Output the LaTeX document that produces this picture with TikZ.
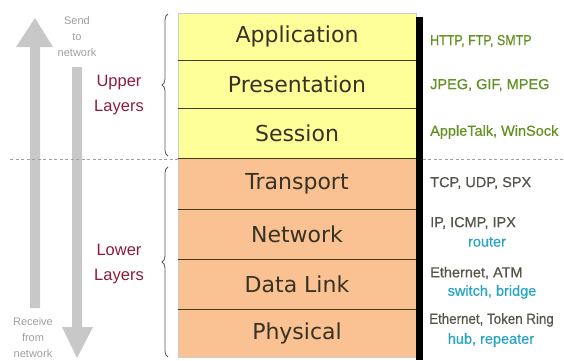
\documentclass[tikz,border=0pt]{standalone}
\usepackage{fontspec}
\setmainfont{Liberation Sans}
\newfontfamily\layerfont{DejaVu Sans}
\newfontfamily\protofont[FakeBold=0.6]{Liberation Sans}
\newfontfamily\protonarrow[FakeBold=0.6,FakeStretch=0.86]{Liberation Sans}
\newfontfamily\protoslim[FakeBold=0.6,FakeStretch=0.92]{Liberation Sans}
\usetikzlibrary{decorations.pathreplacing}
\definecolor{upfill}{RGB}{255,255,153}
\definecolor{lowfill}{RGB}{250,194,146}
\definecolor{septext}{RGB}{55,50,35}
\definecolor{sepline}{RGB}{70,60,25}
\definecolor{arrowgray}{RGB}{200,200,200}
\definecolor{sidegray}{RGB}{160,160,160}
\definecolor{groupred}{RGB}{140,30,60}
\definecolor{protogreen}{RGB}{100,145,35}
\definecolor{protogray}{RGB}{85,85,75}
\definecolor{devcyan}{RGB}{40,165,195}
\definecolor{bracegray}{RGB}{90,90,90}
\tikzset{
  layerbox/.style={rectangle, inner sep=0pt, minimum width=238pt, draw=black!20, line width=0.4pt,
    font=\layerfont\fontsize{22}{25}\selectfont, text=septext},
  upperlayer/.style={layerbox, fill=upfill},
  lowerlayer/.style={layerbox, fill=lowfill},
  sepline/.style={draw=sepline, line width=1.4pt},
  grouplabel/.style={align=center, inner sep=0pt, text=groupred, font=\fontsize{16.5}{25}\selectfont},
  sidelabel/.style={align=center, inner sep=0pt, text=sidegray, font=\fontsize{11}{16}\selectfont},
  proto/.style={anchor=west, inner sep=0pt, font=\protofont\fontsize{14.5}{16}\selectfont},
  protonarrow/.style={proto, font=\protonarrow\fontsize{14.5}{16}\selectfont},
  protoslim/.style={proto, font=\protoslim\fontsize{14.5}{16}\selectfont},
  dev/.style={inner sep=0pt, text=devcyan, font=\protofont\fontsize{14.5}{16}\selectfont},
  groupbrace/.style={draw=bracegray, line width=0.8pt, decorate, decoration={brace, amplitude=6pt}},
}
\begin{document}
\begin{tikzpicture}[x=1pt, y=-1pt]
\useasboundingbox (0,0) rectangle (564,360);
\fill[white] (0,0) rectangle (564,360);
% big gray arrows
\fill[arrowgray] (30,308) -- (30,47) -- (16,47) -- (35,18) -- (53,47) -- (40,47) -- (40,308) -- cycle;
\fill[arrowgray] (72,67) -- (82,67) -- (82,327) -- (93,327) -- (77,358) -- (62,327) -- (72,327) -- cycle;
% dashed divider
\draw[sidegray, line width=1pt, dash pattern=on 3pt off 2.5pt] (10,159) -- (564,159);
% layers
\node[upperlayer, minimum height=47pt] (app)  at (297,36.5) {Application};
\node[upperlayer, minimum height=48pt] (pres) at (297,84)   {Presentation};
\node[upperlayer, minimum height=50pt] (sess) at (297,133)  {Session};
\node[lowerlayer, minimum height=51pt] (trans) at (297,183.5) {Transport};
\node[lowerlayer, minimum height=50pt] (net)  at (297,234)  {Network};
\node[lowerlayer, minimum height=50pt] (dl)   at (297,284)  {Data Link};
\node[lowerlayer, minimum height=48pt] (phys) at (297,333)  {Physical};
\foreach \n in {app,pres,sess,trans,net,dl}
  \draw[sepline] (\n.south west) -- (\n.south east);
% black bar
\fill[black] (416,17) rectangle (423,360);
% braces
\draw[groupbrace] (168,156) -- (168,14);
\draw[groupbrace] (168,357) -- (168,167);
% group labels
\node[grouplabel] (upper) at (119,95) {Upper\\Layers};
\node[grouplabel] (lower) at (119,264) {Lower\\Layers};
\node[sidelabel] (send) at (77,37) {Send\\to\\network};
\node[sidelabel] (recv) at (33,338) {Receive\\from\\network};
% protocols
\node[protonarrow, text=protogreen] (p7) at (430,41) {HTTP, FTP, SMTP};
\node[proto, text=protogreen] (p6) at (430,85) {JPEG, GIF, MPEG};
\node[proto, text=protogreen] (p5) at (430,132) {AppleTalk, WinSock};
\node[proto, text=protogray] (p4) at (430,183) {TCP, UDP, SPX};
\node[proto, text=protogray] (p3) at (430,223) {IP, ICMP, IPX};
\node[dev] (d3) at (487,242) {router};
\node[proto, text=protogray] (p2) at (430,273) {Ethernet, ATM};
\node[dev] (d2) at (492,292) {switch, bridge};
\node[protoslim, text=protogray] (p1) at (429,320) {Ethernet, Token Ring};
\node[dev] (d1) at (491,340) {hub, repeater};
\end{tikzpicture}
\end{document}
